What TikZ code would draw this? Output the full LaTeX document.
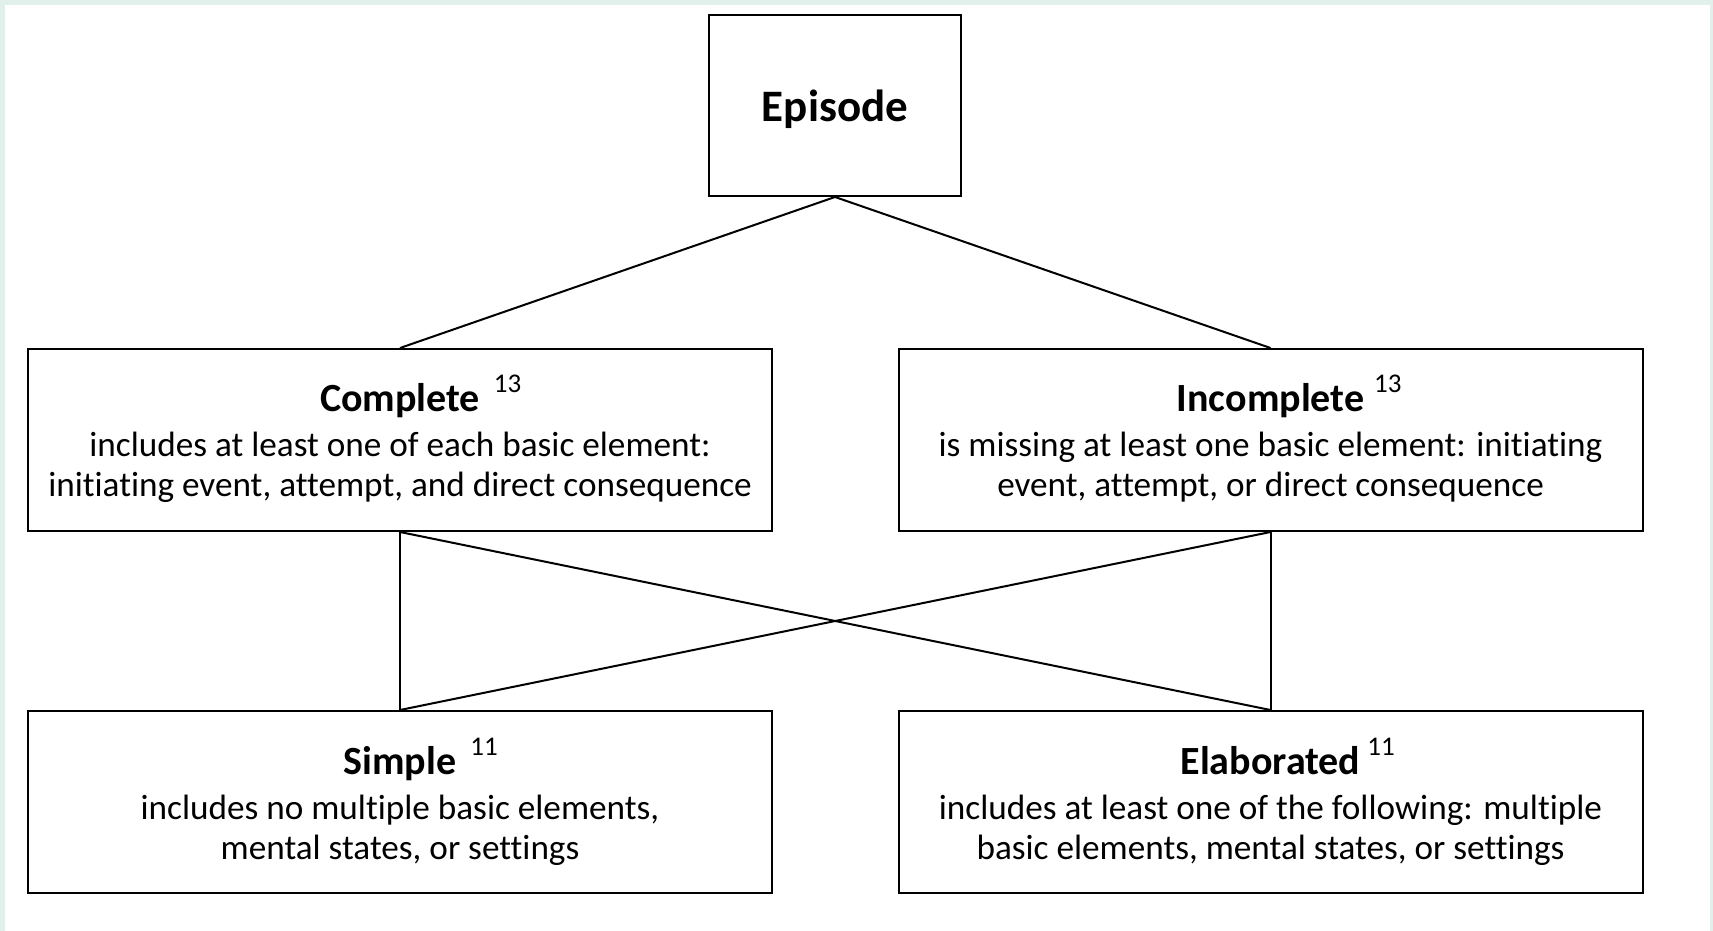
\documentclass[tikz,border=0pt]{standalone}
\usepackage{fontspec}
\setmainfont{Carlito}[Ligatures=NoCommon]
\definecolor{frame}{HTML}{E2F0EC}
\newcommand{\ttl}[1]{{\fontsize{40}{40}\selectfont\bfseries #1}}
\newcommand{\sps}[2]{\rlap{\hspace{#1}\raisebox{19pt}{\fontsize{27}{27}\selectfont #2}}}
\begin{document}
\begin{tikzpicture}[x=1pt,y=-1pt,
  box/.style={draw=black, line width=2pt, inner sep=0pt, align=center,
    minimum width=744, minimum height=182, font=\fontsize{35.2}{40}\selectfont},
  txt/.style={align=center, inner sep=0pt, font=\fontsize{35.2}{40}\selectfont},
  link/.style={line width=2pt}]
\fill[frame] (0,0) rectangle (1713,931);
\fill[white] (5,5) rectangle (1710,931);
\useasboundingbox (0,0) rectangle (1713,931);
\node[box, minimum width=252, minimum height=181] (ep) at (835,105.5) {};
\node (ept) at (835,109.5) {\fontsize{45}{45}\selectfont\bfseries Episode};
\node[box] (co) at (400,440) {};
\node[box] (in) at (1270.5,440) {};
\node[box] (si) at (400,802) {};
\node[box] (el) at (1270.5,802) {};
\node[txt] (cot) at (400,439) {\ttl{Complete}\sps{14pt}{13}\\[5pt]includes at least one of each basic element:\\initiating event, attempt, and direct consequence};
\node[txt] (int) at (1270.5,439) {\ttl{Incomplete}\sps{10pt}{13}\\[5pt]is missing at least one basic element: initiating\\event, attempt, or direct consequence};
\node[txt] (sit) at (400,801.5) {\ttl{Simple}\sps{14pt}{11}\\[5pt]includes no multiple basic elements,\\mental states, or settings};
\node[txt] (elt) at (1270.5,801.5) {\ttl{Elaborated}\sps{7pt}{11}\\[5pt]includes at least one of the following: multiple\\basic elements, mental states, or settings};
\draw[link] (ep.south) -- (co.north);
\draw[link] (ep.south) -- (in.north);
\draw[link] (co.south) -- (si.north);
\draw[link] (co.south) -- (el.north);
\draw[link] (in.south) -- (si.north);
\draw[link] (in.south) -- (el.north);
\end{tikzpicture}
\end{document}
